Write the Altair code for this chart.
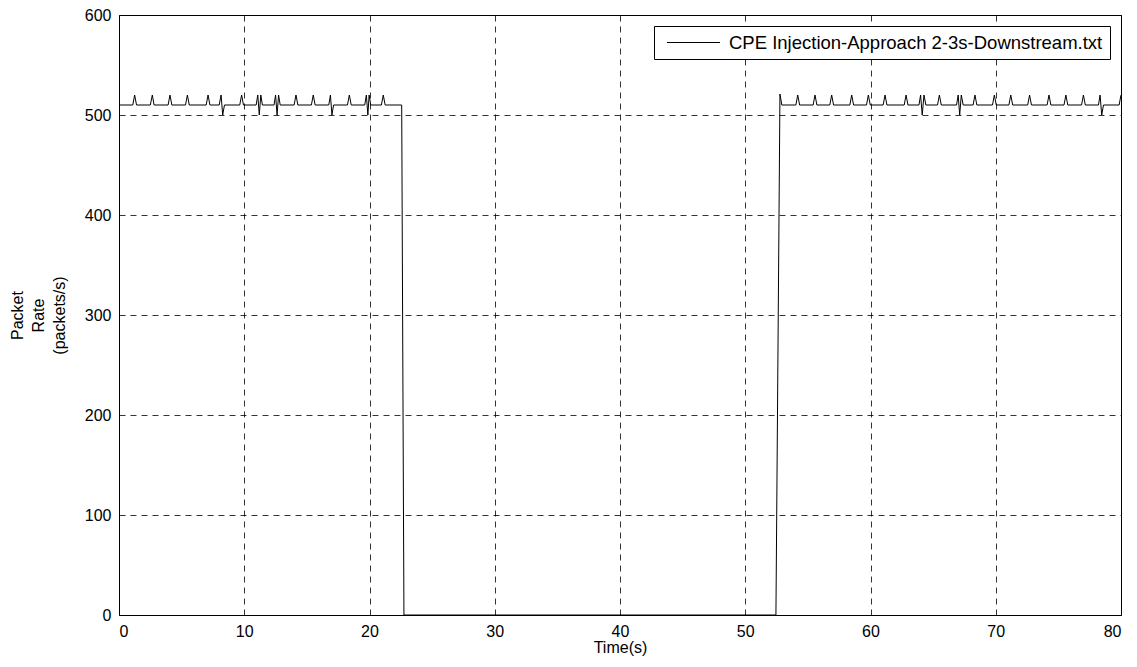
import altair as alt
import pandas as pd

series_name = "CPE Injection-Approach 2-3s-Downstream.txt"

time_s = [
    0, 1.1, 1.25, 1.4, 2.5, 2.66, 2.8, 3.92, 4.07, 4.22, 5.31, 5.46, 5.61,
    6.96, 7.11, 7.26, 8.0, 8.15, 8.28, 8.42, 9.64, 9.79, 9.94,
    10.95, 11.08, 11.2, 11.32, 11.45, 12.38, 12.5, 12.62, 12.74, 12.87,
    13.98, 14.13, 14.28, 15.36, 15.51, 15.66, 16.75, 16.88, 17.0, 17.13,
    18.24, 18.39, 18.54, 19.62, 19.75, 19.87, 19.97, 20.1, 20.95, 21.1, 21.25,
    22.57, 22.75,
    52.45, 52.77, 52.92, 54.04, 54.19, 54.34, 55.42, 55.57, 55.72,
    56.75, 56.9, 57.05, 58.35, 58.5, 58.65, 59.68, 59.83, 59.98,
    61.01, 61.16, 61.31, 62.69, 62.84, 62.99, 63.87, 64.0, 64.13, 64.27, 64.42,
    65.35, 65.5, 65.65, 66.87, 67.0, 67.12, 67.25, 67.4, 68.19, 68.34, 68.49,
    69.74, 69.89, 70.04, 71.05, 71.2, 71.35, 72.55, 72.7, 72.85,
    74.1, 74.25, 74.4, 75.45, 75.6, 75.75, 76.85, 77.0, 77.15,
    78.2, 78.33, 78.46, 78.6, 79.85, 80.0,
]

rate = [
    510, 510, 520, 510, 510, 520, 510, 510, 520, 510, 510, 520, 510,
    510, 520, 510, 510, 520, 500, 510, 510, 520, 510,
    510, 520, 500, 520, 510, 510, 520, 500, 520, 510,
    510, 520, 510, 510, 520, 510, 510, 520, 500, 510,
    510, 520, 510, 510, 520, 500, 520, 510, 510, 520, 510,
    510, 0,
    0, 521, 510, 510, 520, 510, 510, 520, 510,
    510, 520, 510, 510, 520, 510, 510, 520, 510,
    510, 520, 510, 510, 520, 510, 510, 520, 500, 520, 510,
    510, 520, 510, 510, 520, 500, 520, 510, 510, 520, 510,
    510, 520, 510, 510, 520, 510, 510, 520, 510,
    510, 520, 510, 510, 520, 510, 510, 520, 510,
    510, 520, 500, 510, 510, 520,
]

x_ticks = [0, 10, 20, 30, 40, 50, 60, 70, 80]
y_ticks = [0, 100, 200, 300, 400, 500, 600]

df = pd.DataFrame({"t": time_s, "r": rate, "series": series_name, "order": list(range(len(time_s)))})

FONT = "Liberation Sans"

chart = alt.Chart(df).mark_line(strokeWidth=1, clip=True).encode(
    x=alt.X(
        "t:Q",
        scale=alt.Scale(domain=[0, 80], nice=False, zero=False),
        axis=alt.Axis(
            values=x_ticks, title="Time(s)", grid=True, ticks=False,
            labelPadding=8, titlePadding=0, domain=False,
        ),
    ),
    y=alt.Y(
        "r:Q",
        scale=alt.Scale(domain=[0, 600], nice=False),
        axis=alt.Axis(
            values=y_ticks, title=["Packet", "Rate", "(packets/s)"], grid=True,
            ticks=False, labelPadding=8, domain=False,
            titleX=-102, titleY=300, titleAngle=-90, titleBaseline="middle",
            titleAlign="center", titleLineHeight=21,
        ),
    ),
    order="order:Q",
    color=alt.Color(
        "series:N",
        scale=alt.Scale(range=["black"]),
        legend=alt.Legend(
            title=None, orient="top-right", offset=11,
            symbolType="M-2.95,0H2.95", symbolSize=324, symbolStrokeWidth=1,
            symbolOffset=23, labelOffset=26,
            strokeColor="black", fillColor="white", padding=7,
            labelFontSize=18.5, labelFont=FONT,
            labelColor="black", labelLimit=700,
        ),
    ),
).properties(
    width=1002, height=600,
    autosize=alt.AutoSizeParams(type="none"),
    padding={"left": 111, "top": 7, "right": 8, "bottom": 44},
).configure(
    background="white"
).configure_view(
    stroke="black", strokeWidth=1
).configure_axis(
    gridColor="black", gridDash=[6, 5], gridOpacity=1, gridWidth=0.8,
    labelFont=FONT, titleFont=FONT, labelFontSize=16, titleFontSize=16,
    labelColor="black", titleColor="black", titleFontWeight="normal",
)

chart.save("out.html", embed_options={"renderer": "svg", "actions": False})
